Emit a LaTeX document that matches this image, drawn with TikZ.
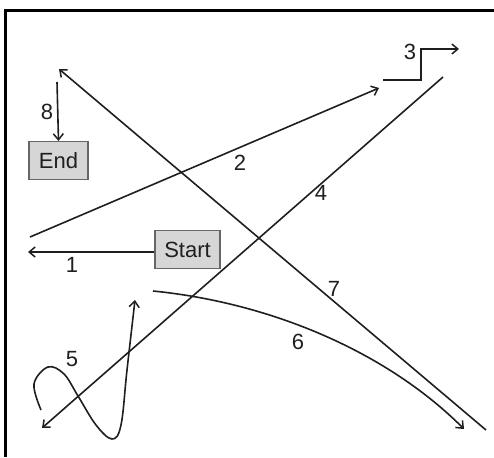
\documentclass[tikz,border=0pt]{standalone}
\usepackage{fontspec}
\setmainfont{Liberation Sans}
\usetikzlibrary{arrows.meta}
\begin{document}
\begin{tikzpicture}[x=1pt,y=-1pt,
  conn/.style={draw=black!88,line width=1.6pt},
  arr/.style={conn,-{Straight Barb[length=6pt,width=10pt,line width=1.5pt]}},
  boxnode/.style={draw=black!60,line width=1.2pt,fill=black!16,minimum height=38pt,inner xsep=4pt,font=\fontsize{22}{25}\selectfont,text=black!88},
  lbl/.style={font=\fontsize{22}{25}\selectfont,text=black!88,inner sep=0pt}]
\useasboundingbox (0,0) rectangle (494,457);
% frame
\draw[line width=3pt,black] (5.5,457) -- (5.5,10.5) -- (494,10.5);
% boxes
\node[boxnode,minimum width=59pt] (end) at (58.5,160.5) {End};
\node[boxnode,minimum width=65pt] (start) at (187.5,249.5) {Start};
% coordinates
\coordinate (c1) at (28,252);
\coordinate (c2a) at (30,237);
\coordinate (c2b) at (379,88);
\coordinate (c3a) at (383,80);
\coordinate (c3b) at (421,80);
\coordinate (c3c) at (421,49);
\coordinate (c3d) at (459,49);
\coordinate (c4a) at (443,77);
\coordinate (c4b) at (42,428);
\coordinate (c6a) at (153,291);
\coordinate (c6b) at (464,429);
\coordinate (c7a) at (486,430);
\coordinate (c7b) at (59,69);
\coordinate (c8) at (57,82);
% connectors
\draw[arr] (start.west |- c1) -- (c1);
\draw[arr] (c2a) -- (c2b);
\draw[arr] (c3a) -- (c3b) -- (c3c) -- (c3d);
\draw[arr] (c4a) -- (c4b);
\draw[arr] plot[smooth,tension=0.6] coordinates {(41,410) (34,384) (48,367) (64,374) (78,396) (96,425) (112,439) (121,425) (127,370) (135,300)};
\draw[arr] (c6a) .. controls (273,303) and (388,353) .. (c6b);
\draw[arr] (c7a) -- (c7b);
\draw[arr] (c8) -- (end.north);
% labels
\node[lbl] (l1) at (72,265) {1};
\node[lbl] (l2) at (240,163) {2};
\node[lbl] (l3) at (410,52) {3};
\node[lbl] (l4) at (321,193) {4};
\node[lbl] (l5) at (72,359) {5};
\node[lbl] (l6) at (298,342) {6};
\node[lbl] (l7) at (334,289) {7};
\node[lbl] (l8) at (47,112) {8};
\end{tikzpicture}
\end{document}
